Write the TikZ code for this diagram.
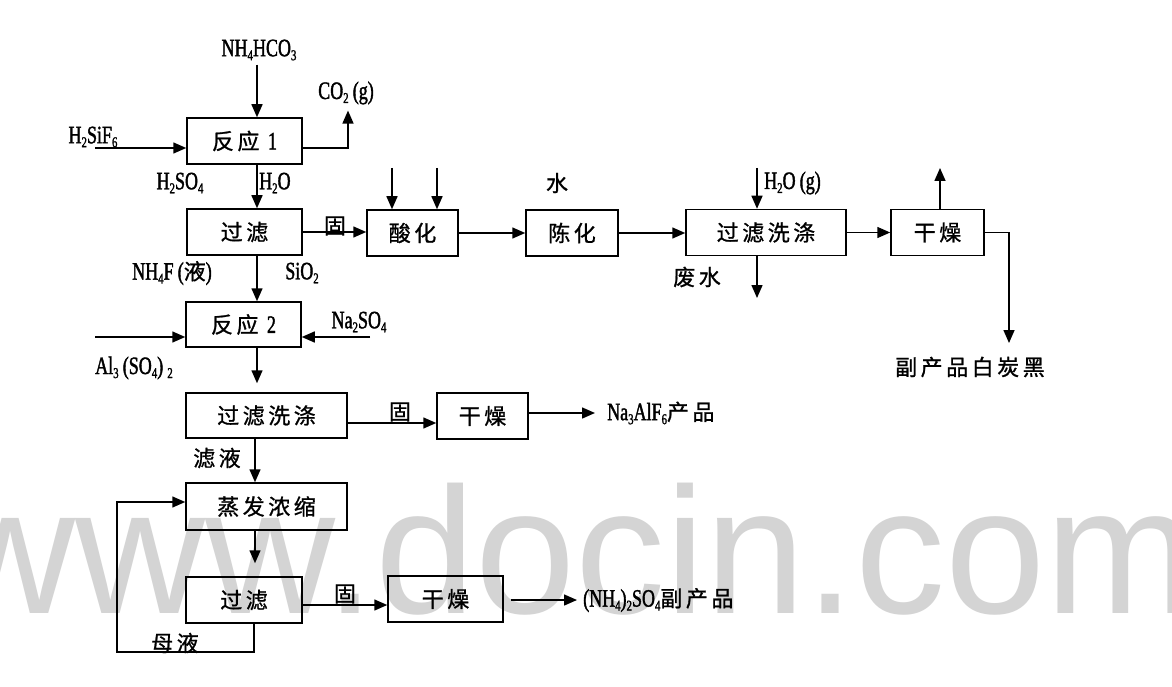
\documentclass[tikz,border=0pt]{standalone}
\usepackage{fontspec}
\usetikzlibrary{arrows.meta,calc}
\newfontfamily\zhfamily[LetterSpace=16,FakeBold=1]{Noto Sans CJK SC}
\newfontfamily\latfamily[FakeStretch=0.72,FakeBold=1.5]{Liberation Serif}
\newfontfamily\wmfamily{Liberation Sans}
\newcommand\zh{\zhfamily\fontsize{22}{24}\selectfont}
\newcommand\lat{\latfamily\fontsize{25}{27}\selectfont}
\newcommand\subs[1]{\raisebox{-0.35ex}{\fontsize{15}{15}\selectfont #1}}
\definecolor{wm}{RGB}{212,212,212}
\tikzset{
  proc/.style={draw, line width=1.5pt, minimum width=#1, minimum height=46pt, inner sep=0pt, font=\zh},
  proc/.default=115pt,
  arr/.style={-{Triangle[length=13pt,width=11pt]}, line width=1.5pt},
  lbl/.style={inner sep=0pt, font=\lat},
  clbl/.style={inner sep=0pt, font=\zh}
}
\begin{document}
\begin{tikzpicture}[x=1pt,y=-1pt]
\useasboundingbox (0,0) rectangle (1172,687);
\fill[white] (0,0) rectangle (1172,687);
\node[anchor=base west, inner sep=0pt, text=wm, font=\wmfamily\fontsize{180}{180}\selectfont] (wmark) at (-55,613) {www.docin.com};

% boxes
\node[proc=115pt] (r1) at (244.5,141) {反应 {\lat 1}};
\node[proc=115pt] (f1) at (244.5,232) {过滤};
\node[proc=91pt] (acid) at (412.5,233) {酸化};
\node[proc=92pt] (aging) at (572,233) {陈化};
\node[proc=160pt] (fw1) at (766,232.5) {过滤洗涤};
\node[proc=93pt] (dry1) at (937.5,232.5) {干燥};
\node[proc=115pt, minimum height=45pt] (r2) at (243.5,324.5) {反应 {\lat 2}};
\node[proc=161pt, minimum height=45pt] (fw2) at (266.5,415.5) {过滤洗涤};
\node[proc=91pt] (dry2) at (482.5,416) {干燥};
\node[proc=161pt, minimum height=47pt] (evap) at (266.5,506.5) {蒸发浓缩};
\node[proc=116pt] (f3) at (244,600) {过滤};
\node[proc=115pt] (dry3) at (445.5,599) {干燥};

\coordinate (xv) at (257,0);
\coordinate (xv2) at (255,0);

% top inputs
\node[lbl] (nh) at (259,50) {NH\subs{4}HCO\subs{3}};
\draw[arr, shorten <=4pt] (nh.south -| xv) -- (r1.north -| xv);
\node[lbl] (hsf) at (93,137) {H\subs{2}SiF\subs{6}};
\coordinate (hsfs) at (95,148);
\draw[arr] (hsfs) -- (r1.west |- hsfs);
\node[lbl] (co2) at (346,93) {CO\subs{2}\,(g)};
\coordinate (co2c) at (348,148);
\draw[arr, shorten >=6pt] (r1.east |- co2c) -| (co2.south -| co2c);

% r1 -> f1
\draw[arr] (r1.south -| xv) -- (f1.north -| xv);
\node[lbl] (h2so4) at (180,183) {H\subs{2}SO\subs{4}};
\node[lbl, anchor=west] (h2o) at (259,183) {H\subs{2}O};

% f1 -> acid
\draw[arr] (f1.east) -- (f1.east -| acid.west);
\node[clbl] (gu1) at (335,226) {固};
\coordinate (a1) at (392,168);
\coordinate (a2) at (437,168);
\draw[arr] (a1) -- (a1 |- acid.north);
\draw[arr] (a2) -- (a2 |- acid.north);
\node[clbl] (shui) at (557,183) {水};
\draw[arr] (acid.east) -- (acid.east -| aging.west);
\draw[arr] (aging.east) -- (aging.east -| fw1.west);
\coordinate (hg) at (757,168);
\draw[arr] (hg) -- (hg |- fw1.north);
\node[lbl, anchor=west] (h2og) at (764,183) {H\subs{2}O\,(g)};
\draw[arr] (fw1.east) -- (fw1.east -| dry1.west);
\node[clbl] (fs) at (697,277) {废水};
\coordinate (ww) at (757,298);
\draw[arr] (fw1.south -| ww) -- (ww);
\coordinate (du) at (940,168);
\draw[arr] (dry1.north -| du) -- (du);
\coordinate (bc) at (1009,343);
\draw[arr] (dry1.east) -| (bc);
\node[clbl] (wcb) at (970,367) {副产品白炭黑};

% f1 -> r2
\draw[arr] (f1.south -| xv) -- (r2.north -| xv);
\node[lbl] (nh4f) at (172,273) {NH\subs{4}F\,({\zh 液})};
\node[lbl] (sio2) at (302,273) {SiO\subs{2}};
\coordinate (als) at (95,337);
\draw[arr] (als) -- (r2.west |- als);
\node[lbl] (al) at (134,368) {Al\subs{3}\,(SO\subs{4})\,\subs{2}};
\coordinate (nas) at (370,337);
\draw[arr] (nas) -- (r2.east |- nas);
\node[lbl] (na2so4) at (359,322) {Na\subs{2}SO\subs{4}};

% r2 -> fw2
\draw[arr, shorten >=9pt] (r2.south -| xv) -- (fw2.north -| xv);
\coordinate (g2) at (0,423);
\draw[arr] (fw2.east |- g2) -- (dry2.west |- g2);
\node[clbl] (gu2) at (400,412) {固};
\node[lbl, anchor=west] (p1) at (607,413) {Na\subs{3}AlF\subs{6}{\zh 产品}};
\draw[arr, shorten >=12pt] (dry2.east |- p1.west) -- (p1.west);

% fw2 -> evap -> f3
\draw[arr] (fw2.south -| xv2) -- (evap.north -| xv2);
\node[clbl] (lv) at (217,458) {滤液};
\draw[arr, shorten >=13pt] (evap.south -| xv2) -- (f3.north -| xv2);
\coordinate (g3) at (0,605);
\draw[arr] (f3.east |- g3) -- (dry3.west |- g3);
\node[clbl] (gu3) at (345,594) {固};
\node[lbl, anchor=west] (p2) at (583,600) {(NH\subs{4})\subs{2}SO\subs{4}{\zh 副产品}};
\draw[arr, shorten <=7pt, shorten >=6pt] (dry3.east |- p2.west) -- (p2.west);

% mother liquor loop
\coordinate (lp1) at (254,652);
\coordinate (lp2) at (117,502);
\draw[arr] (f3.south -| lp1) -- (lp1) -| (lp2) -- (evap.west |- lp2);
\node[clbl] (my) at (175,643) {母液};
\end{tikzpicture}
\end{document}
